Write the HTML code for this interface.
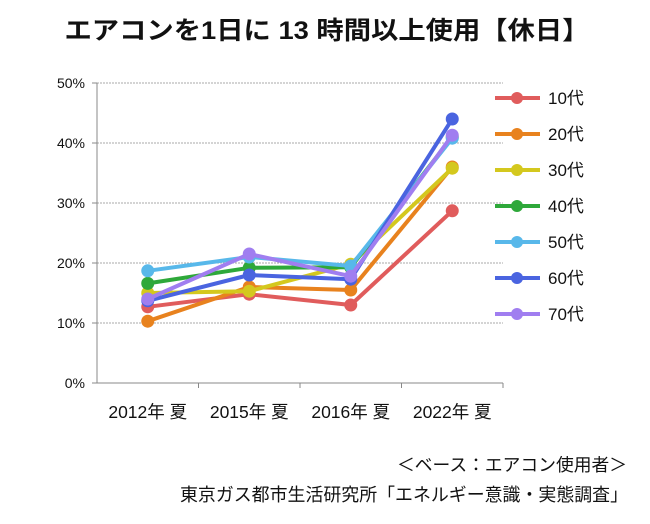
<!DOCTYPE html>
<html><head><meta charset="utf-8"><style>
body{margin:0;background:#fff;width:650px;height:519px;overflow:hidden;font-family:"Liberation Sans","Noto Sans CJK JP",sans-serif;}
</style></head><body>
<svg width="650" height="519" id="c" font-family="Liberation Sans, Noto Sans CJK JP, sans-serif">
<text x="327" y="39" text-anchor="middle" font-size="25" font-weight="bold" fill="#111" textLength="525" lengthAdjust="spacingAndGlyphs">エアコンを1日に 13 時間以上使用【休日】</text>
<text x="627" y="471" text-anchor="end" font-size="17.5" fill="#111" textLength="230" lengthAdjust="spacingAndGlyphs">＜ベース：エアコン使用者＞</text>
<text x="628" y="501" text-anchor="end" font-size="18" fill="#111" textLength="448" lengthAdjust="spacingAndGlyphs">東京ガス都市生活研究所「エネルギー意識・実態調査」</text>
</svg>
<script>
const categories=["2012年 夏","2015年 夏","2016年 夏","2022年 夏"];
const seriesNames=["10代","20代","30代","40代","50代","60代","70代"];
const colors=["#e05c5c","#e8821e","#d4c81e","#2ea83a","#58b8ea","#4a64e0","#a07ef0"];
const s10=[12.7,14.8,13.0,28.7];
const s20=[10.3,16.0,15.5,36.0];
const s30=[15.0,15.3,19.8,35.8];
const s40=[16.6,19.2,19.3,41.0];
const s50=[18.7,21.0,19.5,40.8];
const s60=[13.7,18.0,17.3,44.0];
const s70=[14.0,21.5,17.8,41.3];
const yTicks=[0,10,20,30,40,50];
const series=[s10,s20,s30,s40,s50,s60,s70];
const svg=document.getElementById('c');const NS="http://www.w3.org/2000/svg";
const L=97,R=503,T=83,B=383;
const y=v=>B-(v/50)*(B-T);
const x=i=>L+(i+0.5)*(R-L)/categories.length;
function mk(t,a,p){const e=document.createElementNS(NS,t);for(const k in a)e.setAttribute(k,a[k]);(p||svg).appendChild(e);return e;}
yTicks.forEach(t=>{
 if(t>0){const g=mk('line',{x1:L,x2:R,y1:y(t),y2:y(t),stroke:'#aaa','stroke-dasharray':'2,1'});
 
 }
 const tl=mk('text',{x:L-12,y:y(t)+5,'text-anchor':'end','font-size':14,fill:'#111'});tl.textContent=t+'%';
 
 
 const tk=mk('line',{x1:L-5,x2:L,y1:y(t),y2:y(t),stroke:'#888'});
 
 
});
const ya=mk('line',{x1:L,x2:L,y1:T,y2:B,stroke:'#888'});


const xa=mk('line',{x1:L,x2:R,y1:B,y2:B,stroke:'#888'});


categories.forEach((c,i)=>{
 const t=mk('text',{x:x(i),y:418,'text-anchor':'middle','font-size':17.5,fill:'#111'});t.textContent=c;
 
 
 const tk=mk('line',{x1:L+(i+1)*(R-L)/4,x2:L+(i+1)*(R-L)/4,y1:B,y2:B+5,stroke:'#888'});
 
 
});
series.forEach((s,k)=>{
 const g=mk('g',{});
 
 
 const pl=mk('polyline',{points:s.map((v,i)=>x(i)+','+y(v)).join(' '),fill:'none',stroke:colors[k],'stroke-width':4,'stroke-linejoin':'round'},g);
 
 
 s.forEach((v,i)=>{const c=mk('circle',{cx:x(i),cy:y(v),r:6.5,fill:colors[k]},g);
 
 });
 const ly=98+k*36;
 const lg=mk('g',{});
 
 
 mk('line',{x1:495,x2:540,y1:ly,y2:ly,stroke:colors[k],'stroke-width':4},lg);
 mk('circle',{cx:517,cy:ly,r:6,fill:colors[k]},lg);
 const lt=mk('text',{x:548,y:ly+6,'font-size':17,fill:'#111'},lg);lt.textContent=seriesNames[k];
});
</script>
</body></html>
